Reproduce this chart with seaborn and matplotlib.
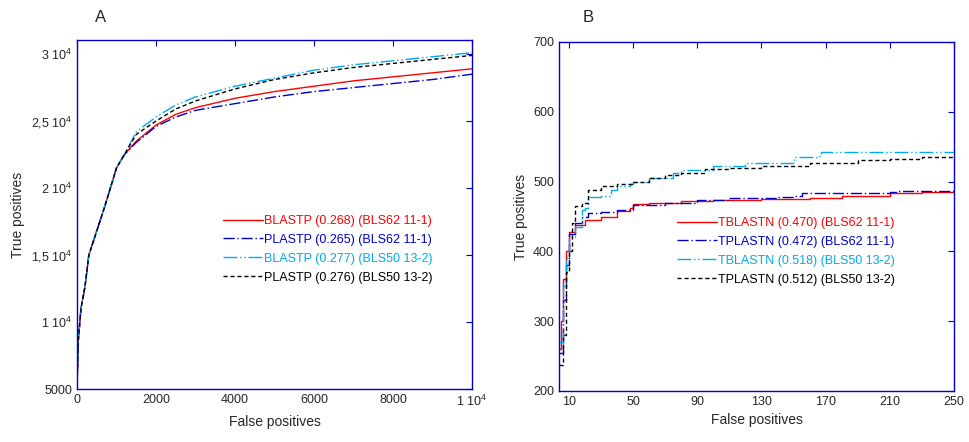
import matplotlib
matplotlib.use("Agg")
import matplotlib.pyplot as plt
import seaborn as sns
import pandas as pd

sns.set_style("white")
plt.rcParams['font.family'] = ['Liberation Sans', 'DejaVu Sans']
plt.rcParams['mathtext.fontset'] = 'custom'
plt.rcParams['mathtext.rm'] = 'Liberation Sans'

# Panel A data
early_fp = [0, 30, 100, 200, 300, 500, 700, 1000, 1200]
early_tp = [5000, 8500, 11000, 12600, 15000, 16800, 18600, 21500, 22500]
late_fp = [1500, 2000, 2500, 3000, 4000, 5000, 6000, 7000, 8000, 9000, 10000]
a_red = [23500, 24700, 25500, 26000, 26700, 27200, 27600, 28000, 28300, 28600, 28900]
a_blue = [23400, 24600, 25300, 25800, 26300, 26800, 27200, 27500, 27800, 28100, 28500]
a_cyan = [24200, 25300, 26200, 26800, 27600, 28200, 28800, 29200, 29500, 29800, 30100]
a_black = [24000, 25000, 25900, 26500, 27400, 28100, 28600, 29000, 29300, 29600, 29900]
a_labels = ["BLASTP (0.268) (BLS62 11-1)", "PLASTP (0.265) (BLS62 11-1)",
            "BLASTP (0.277) (BLS50 13-2)", "PLASTP (0.276) (BLS50 13-2)"]

# Panel B data
b_red_x = [4, 5, 6, 8, 10, 14, 20, 30, 40, 48, 50, 60, 80, 100, 130, 160, 180, 210, 230, 250]
b_red_y = [260, 300, 360, 400, 428, 438, 445, 450, 458, 462, 468, 470, 472, 473, 475, 477, 480, 483, 485, 486]
b_blue_x = [4, 6, 8, 10, 14, 18, 22, 30, 40, 50, 70, 90, 110, 140, 150, 155, 210, 215, 250]
b_blue_y = [255, 330, 380, 425, 440, 450, 455, 457, 460, 466, 470, 473, 476, 478, 480, 484, 485, 487, 487]
b_cyan_x = [4, 6, 8, 10, 14, 18, 20, 22, 30, 36, 40, 48, 50, 60, 75, 80, 100, 120, 150, 165, 167, 250]
b_cyan_y = [270, 350, 390, 420, 435, 460, 462, 478, 480, 488, 493, 497, 500, 505, 512, 517, 523, 527, 535, 536, 542, 543]
b_black_x = [4, 6, 8, 10, 12, 14, 18, 22, 30, 40, 50, 60, 70, 80, 90, 95, 110, 130, 160, 180, 190, 210, 230, 250]
b_black_y = [237, 280, 370, 400, 440, 465, 470, 488, 493, 497, 500, 505, 510, 513, 513, 518, 520, 523, 526, 527, 531, 532, 535, 536]
b_labels = ["TBLASTN (0.470) (BLS62 11-1)", "TPLASTN (0.472) (BLS62 11-1)",
            "TBLASTN (0.518) (BLS50 13-2)", "TPLASTN (0.512) (BLS50 13-2)"]

colors = ["#ff0000", "#0000cc", "#00aaee", "#000000"]
styles = ["-", (0, (8, 2, 1, 2)), (0, (10, 2, 1, 2, 1, 2)), (0, (3, 2))]

fig = plt.figure(figsize=(9.7, 4.42), dpi=100)
axA = fig.add_axes([77/970, 1-389/442, 395/970, 349/442])
axB = fig.add_axes([559/970, 1-391/442, 395/970, 349/442])

for ys, c, lab in zip([a_red, a_blue, a_cyan, a_black], colors, a_labels):
    df = pd.DataFrame({"fp": early_fp + late_fp, "tp": early_tp + ys})
    sns.lineplot(data=df, x="fp", y="tp", ax=axA, color=c, lw=1, label=lab)
for l, ls in zip(axA.lines, styles):
    l.set_linestyle(ls)

for xs, ys, c, lab in zip([b_red_x, b_blue_x, b_cyan_x, b_black_x],
                          [b_red_y, b_blue_y, b_cyan_y, b_black_y], colors, b_labels):
    df = pd.DataFrame({"fp": xs, "tp": ys})
    sns.lineplot(data=df, x="fp", y="tp", ax=axB, color=c, lw=1, label=lab, drawstyle="steps-post")
for l, ls in zip(axB.lines, styles):
    l.set_linestyle(ls)

axA.set_xlim(0, 10000)
axA.set_ylim(5000, 31050)
axA.set_xticks([0, 2000, 4000, 6000, 8000, 10000])
axA.set_xticklabels(["0", "2000", "4000", "6000", "8000", r"1 10$^4$"])
axA.set_yticks([5000, 10000, 15000, 20000, 25000, 30000])
axA.set_yticklabels(["5000", r"1 10$^4$", r"1,5 10$^4$", r"2 10$^4$", r"2,5 10$^4$", r"3 10$^4$"])

axB.set_xlim(3.8, 250)
axB.set_ylim(200, 700)
axB.set_xticks([10, 50, 90, 130, 170, 210, 250])
axB.set_yticks([200, 300, 400, 500, 600, 700])

for ax, loc in [(axA, (0.34, 0.27)), (axB, (0.27, 0.27))]:
    ax.set_xlabel("False positives", fontsize=10)
    ax.set_ylabel("True positives", fontsize=10)
    ax.tick_params(direction="in", length=4, color="#0000cc", top=True, right=True, labelsize=9)
    for s in ax.spines.values():
        s.set_color("#0000cc")
        s.set_linewidth(1)
    leg = ax.legend(loc="lower left", bbox_to_anchor=loc, frameon=False, fontsize=9,
                    handlelength=3.2, handletextpad=0.1, labelspacing=0.55)
    for t, c in zip(leg.get_texts(), colors):
        t.set_color(c)

fig.text(95/970, 1-17/442, "A", fontsize=12, va="center")
fig.text(583/970, 1-17/442, "B", fontsize=12, va="center")

fig.savefig("out.png", dpi=100)
